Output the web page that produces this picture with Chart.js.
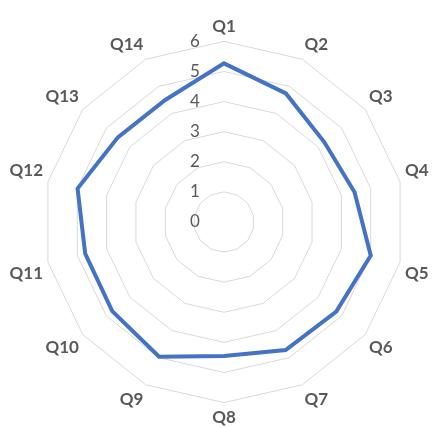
<!DOCTYPE html>
<html>
<head>
<meta charset="utf-8">
<script src="https://cdn.jsdelivr.net/npm/chart.js@4"></script>
<style>
  html, body { margin: 0; padding: 0; background: #fff; }
  #wrap { width: 435px; height: 428px; }
</style>
</head>
<body>
<div id="wrap"><canvas id="radarChart"></canvas></div>
<script>
// categories and scores
const categories = ['Q1', 'Q2', 'Q3', 'Q4', 'Q5', 'Q6', 'Q7', 'Q8', 'Q9', 'Q10', 'Q11', 'Q12', 'Q13', 'Q14'];
const scores = [5.27, 4.74, 4.26, 4.45, 5.0, 4.77, 4.72, 4.45, 4.97, 4.75, 4.73, 4.99, 4.51, 4.5];
const tickValues = [0, 1, 2, 3, 4, 5, 6];

// tick labels sit left of the Q1 axis, like in the spreadsheet chart
const sideTicks = {
    id: 'sideTicks',
    beforeDatasetsDraw(chart) {
        const scale = chart.scales.r;
        const ctx = chart.ctx;
        ctx.save();
        ctx.font = '17px Lato';
        ctx.fillStyle = '#595959';
        ctx.textAlign = 'center';
        ctx.textBaseline = 'middle';
        tickValues.forEach(v => {
            const d = scale.getDistanceFromCenterForValue(v);
            ctx.fillText(String(v), scale.xCenter - 29, scale.yCenter - d);
        });
        ctx.restore();
    }
};

new Chart(document.getElementById('radarChart'), {
    type: 'radar',
    data: {
        labels: categories,
        datasets: [{
            data: scores,
            borderColor: '#4472C4',
            borderWidth: 4,
            backgroundColor: 'transparent',
            pointRadius: 0,
            fill: false
        }]
    },
    options: {
        responsive: true,
        maintainAspectRatio: false,
        animation: false,
        layout: { padding: { top: 16, bottom: -16, left: 3, right: 0 } },
        plugins: { legend: { display: false }, tooltip: { enabled: false } },
        scales: {
            r: {
                min: 0,
                max: 6,
                ticks: { display: false, stepSize: 1 },
                angleLines: { display: false },
                grid: { color: '#d9d9d9', lineWidth: 1 },
                pointLabels: {
                    font: { family: 'Lato', size: 17, weight: 'bold' },
                    color: '#595959',
                    padding: 5
                }
            }
        }
    },
    plugins: [sideTicks]
});
</script>
</body>
</html>
